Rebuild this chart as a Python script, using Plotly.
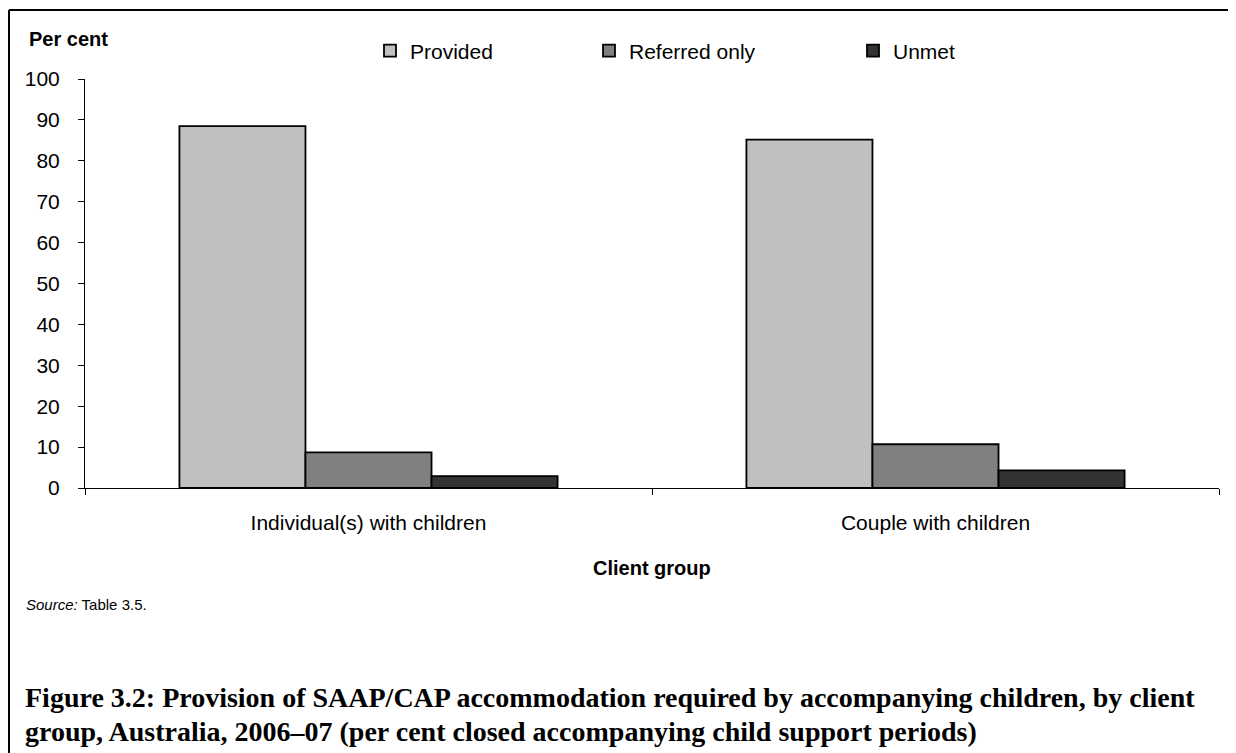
import plotly.graph_objects as go

categories = ["Individual(s) with children", "Couple with children"]
provided = [88.5, 85.2]
referred_only = [8.7, 10.7]
unmet = [2.9, 4.3]
series_names = ["Provided", "Referred only", "Unmet"]
series_colors = ["#C0C0C0", "#808080", "#333333"]
y_ticks = [0, 10, 20, 30, 40, 50, 60, 70, 80, 90, 100]

OFF = 8                  # page body margin of the html page
W, H = 1236 - OFF, 753 - OFF
L, R = 85 - OFF, 1219 - OFF      # plot area x pixels (figure coords)
T, B = 79 - OFF, 487.7 - OFF     # plot area y pixels (100 and 0)

def px(x):  # page pixel -> paper
    return (x - OFF - L) / (R - L)

def py(y):
    return (B - (y - OFF)) / (B - T)

fig = go.Figure()
for i, (name, vals, col) in enumerate(zip(series_names, [provided, referred_only, unmet], series_colors)):
    fig.add_trace(go.Bar(
        x=categories, y=vals, name=name, showlegend=True,
        marker=dict(color=col, line=dict(color="#000000", width=1.8)),
        legend="legend" if i == 0 else f"legend{i+1}",
    ))

font_sans = "Liberation Sans, Arial, sans-serif"
legend_x = [370, 589, 853]
leg_common = dict(orientation="h", xanchor="left", yanchor="middle",
                  font=dict(family=font_sans, size=21, color="#000"),
                  bgcolor="rgba(0,0,0,0)", borderwidth=0, xref="paper", yref="paper")

fig.update_layout(
    width=W, height=H, autosize=False,
    margin=dict(l=L, r=W - R, t=T, b=H - B),
    paper_bgcolor="white", plot_bgcolor="white",
    barmode="group", bargap=0.333, bargroupgap=0,
    font=dict(family=font_sans, size=21, color="#000"),
    legend=dict(x=px(legend_x[0]), y=py(51), **leg_common),
    legend2=dict(x=px(legend_x[1]), y=py(51), **leg_common),
    legend3=dict(x=px(legend_x[2]), y=py(51), **leg_common),
    xaxis=dict(
        showline=True, linecolor="#000", linewidth=1,
        ticks="outside", ticklen=6, tickcolor="#000", tickson="boundaries",
        tickfont=dict(family=font_sans, size=21, color="#000"),
        ticklabelstandoff=16, showgrid=False, zeroline=False,
    ),
    yaxis=dict(
        range=[0, 100], tickvals=y_ticks,
        showline=True, linecolor="#000", linewidth=1,
        ticks="outside", ticklen=6, tickcolor="#000",
        tickfont=dict(family=font_sans, size=21, color="#000"),
        ticklabelstandoff=14, showgrid=False, zeroline=False,
    ),
)

ann = [
    dict(text="<b>Per cent</b>", x=px(27), y=py(39), xanchor="left", yanchor="middle",
         font=dict(family=font_sans, size=20)),
    dict(text="<b>Client group</b>", x=px(652), y=py(568), xanchor="center", yanchor="middle",
         font=dict(family=font_sans, size=20)),
    dict(text="<i>Source:</i> Table 3.5.", x=px(24), y=py(604), xanchor="left", yanchor="middle",
         font=dict(family=font_sans, size=15)),
    dict(text="<b>Figure 3.2: Provision of SAAP/CAP accommodation required by accompanying children, by client</b>",
         x=px(23), y=py(697), xanchor="left", yanchor="middle",
         font=dict(family="Liberation Serif, serif", size=28)),
    dict(text="<b>group, Australia, 2006–07 (per cent closed accompanying child support periods)</b>",
         x=px(23), y=py(731), xanchor="left", yanchor="middle",
         font=dict(family="Liberation Serif, serif", size=28)),
]
for a in ann:
    a.update(xref="paper", yref="paper", showarrow=False)
    fig.add_annotation(**a)

# outer frame
fig.add_shape(type="line", xref="paper", yref="paper", x0=px(9), x1=px(9), y0=py(10), y1=py(770),
              line=dict(color="#000", width=2))
fig.add_shape(type="line", xref="paper", yref="paper", x0=px(9), x1=px(1231), y0=py(10), y1=py(10),
              line=dict(color="#000", width=2))
fig.add_shape(type="line", xref="paper", yref="paper", x0=px(1231), x1=px(1231), y0=py(10), y1=py(650),
              line=dict(color="#000", width=2))

fig.write_html("out.html")
